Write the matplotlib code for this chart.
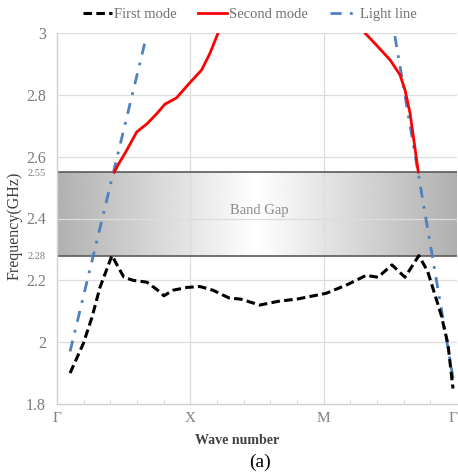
import numpy as np
import matplotlib
matplotlib.use("Agg")
import matplotlib.pyplot as plt
from matplotlib.colors import LinearSegmentedColormap

plt.rcParams['font.family'] = ['Liberation Serif', 'DejaVu Serif']

# Wave-number path Γ-X-M-Γ, 5 steps per segment
sym_pos = [0, 5, 10, 15]
sym_labels = ['Γ', 'X', 'M', 'Γ']

# First mode
k1 = [0.49, 0.98, 1.31, 1.61, 2.06, 2.25, 2.51, 2.85, 3.37, 3.75, 4.01, 4.35, 4.87,
      5.36, 5.85, 6.45, 6.9, 7.6, 8.29, 9.04, 10.09, 10.91, 11.59, 12.04, 12.56,
      13.05, 13.57, 13.9, 14.4, 14.66, 14.85]
f1 = [1.90, 1.994, 2.08, 2.177, 2.28, 2.25, 2.21, 2.20, 2.194, 2.17, 2.15, 2.168, 2.177,
      2.18, 2.168, 2.143, 2.139, 2.12, 2.132, 2.14, 2.158, 2.187, 2.216, 2.21, 2.25,
      2.21, 2.28, 2.229, 2.09, 1.994, 1.85]

# Second mode (two branches above the gap)
k2a = [2.15, 2.3, 2.61, 2.99, 3.37, 3.75, 4.05, 4.48, 4.99, 5.42, 5.74, 6.04, 6.2]
f2a = [2.55, 2.575, 2.62, 2.68, 2.706, 2.74, 2.77, 2.79, 2.84, 2.88, 2.935, 3.0, 3.04]
k2b = [11.4, 11.55, 12.04, 12.49, 12.86, 13.05, 13.24, 13.42, 13.55]
f2b = [3.03, 3.0, 2.955, 2.913, 2.865, 2.816, 2.74, 2.63, 2.55]

# Light line
kl_a = [0.49, 3.34]
fl_a = [1.97, 2.985]
kl_b = [12.67, 14.88]
fl_b = [2.99, 1.87]

# Band gap limits (GHz)
gap_low, gap_high = 2.28, 2.55

fig = plt.figure(figsize=(4.58, 4.75), dpi=100)
ax = fig.add_axes([57/458, 71/475, 400/458, 371/475])

ax.set_xlim(0, 15)
ax.set_ylim(1.8, 3.0)

# Gradient-filled band gap
t = np.linspace(0, 1, 400)
shade = 1 - 0.31 * np.abs(2 * t - 1)
cmap = LinearSegmentedColormap.from_list('g', ['#000000', '#ffffff'])
ax.imshow(shade[np.newaxis, :], cmap=cmap, vmin=0, vmax=1, aspect='auto',
          extent=[0, 15, gap_low, gap_high], zorder=1, interpolation='bilinear')
ax.plot([0, 15], [gap_high, gap_high], color='#5a5a5a', lw=1.2, zorder=2)
ax.plot([0, 15], [gap_low, gap_low], color='#5a5a5a', lw=1.2, zorder=2)
ax.text(7.6, (gap_low + gap_high) / 2 + 0.01, 'Band Gap', ha='center', va='center',
        color='#8a8a8a', fontsize=10.5, zorder=3)

# Grid
for y in [2.0, 2.2, 2.4, 2.6, 2.8, 3.0]:
    ax.axhline(y, color='#dcdcdc', lw=0.9, zorder=1.5)
for x in [5, 10]:
    ax.axvline(x, color='#dcdcdc', lw=0.9, zorder=1.5)

# Curves
ax.plot(k1, f1, color='black', lw=2.2, ls=(0, (2.8, 1.4)), zorder=5, label='First mode')
ax.plot(k2a, f2a, color='#ff0000', lw=2.0, zorder=5, label='Second mode')
ax.plot(k2b, f2b, color='#ff0000', lw=2.0, zorder=5)
ax.plot(kl_a, fl_a, color='#4f81bd', lw=2.0, ls=(0, (4, 3, 1, 3)), zorder=4, label='Light line')
ax.plot(kl_b, fl_b, color='#4f81bd', lw=2.0, ls=(0, (4, 3, 1, 3)), zorder=4)

# Axes styling
for s in ['top', 'right']:
    ax.spines[s].set_visible(False)
for s in ['left', 'bottom']:
    ax.spines[s].set_color('#d0d0d0')
    ax.spines[s].set_linewidth(1.0)

ax.set_xticks(sym_pos)
ax.set_xticklabels(sym_labels, color='#808080', fontsize=11)
ax.get_xticklabels()[-1].set_horizontalalignment('right')
ax.set_xticks(np.arange(0, 16, 1), minor=True)
ax.tick_params(axis='x', which='major', length=0, pad=6)
ax.tick_params(axis='x', which='minor', direction='in', length=3, color='#d0d0d0')

yt = [1.8, 2.0, 2.2, 2.28, 2.4, 2.55, 2.6, 2.8, 3.0]
ytl = ['1.8', '2', '2.2', '2.28', '2.4', '2.55', '2.6', '2.8', '3']
ax.set_yticks(yt)
ax.set_yticklabels(ytl, color='#7a7a7a')
ax.tick_params(axis='y', length=0, pad=8)
for lab, v in zip(ax.get_yticklabels(), yt):
    lab.set_fontsize(7.5 if v in (2.28, 2.55) else 11.5)

fig.text(237/458, 1 - 440/475, 'Wave number', ha='center', va='center',
         fontsize=10, fontweight='bold', color='#404040')
fig.text(15/458, 1 - 226/475, 'Frequency(GHz)', ha='center', va='center',
         rotation=90, fontsize=11.5, color='#404040')
fig.text(260/458, 1 - 462/475, '(a)', ha='center', va='center', fontsize=14, color='black')

leg = fig.legend(loc='center', bbox_to_anchor=(250/458, 1 - 14/475), ncol=3, frameon=False,
                 fontsize=10.5, handlelength=2.0, handletextpad=0.1, columnspacing=1.5)
for txt in leg.get_texts():
    txt.set_color('#707070')

fig.savefig('out.png', dpi=100)
